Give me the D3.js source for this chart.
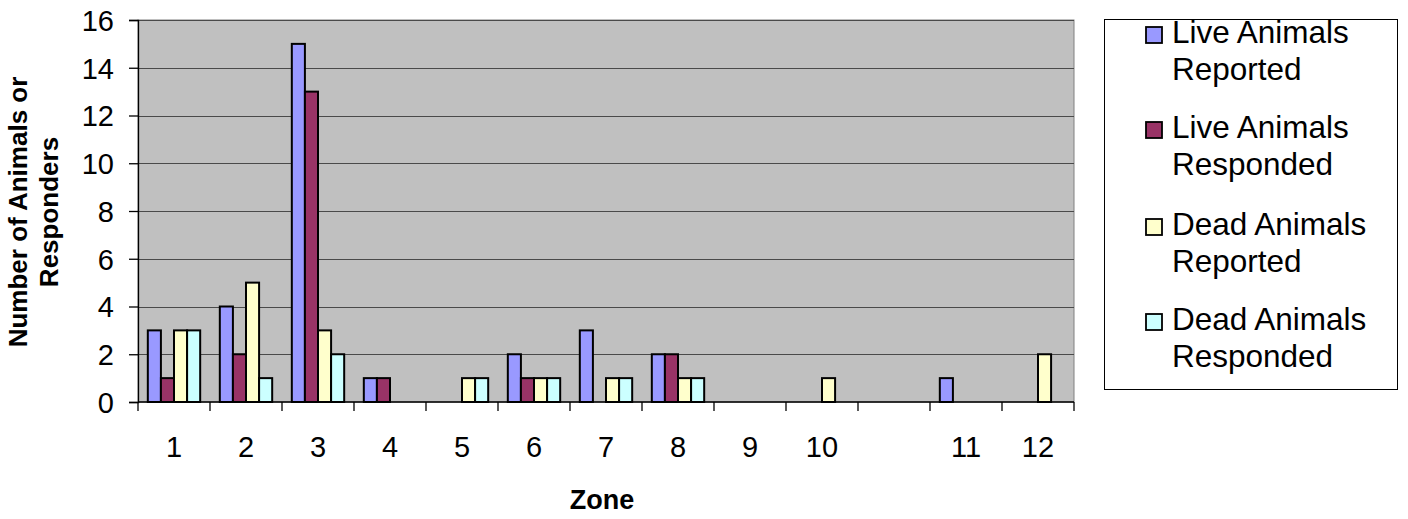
<!DOCTYPE html>
<html>
<head>
<meta charset="utf-8">
<script src="https://cdn.jsdelivr.net/npm/d3@7"></script>
<style>
  html, body { margin: 0; padding: 0; background: #ffffff; }
  svg { display: block; }
  text { font-family: "Liberation Sans", Arial, sans-serif; fill: #000; }
</style>
</head>
<body>
<svg id="chart" width="1408" height="519"></svg>
<script>
const categories = ["1", "2", "3", "4", "5", "6", "7", "8", "9", "10", "", "11", "12"];
const seriesNames = ["Live Animals Reported", "Live Animals Responded", "Dead Animals Reported", "Dead Animals Responded"];
const legendLines = [["Live Animals", "Reported"], ["Live Animals", "Responded"], ["Dead Animals", "Reported"], ["Dead Animals", "Responded"]];
const liveReported   = [3, 4, 15, 1, 0, 2, 3, 2, 0, 0, 0, 1, 0];
const liveResponded  = [1, 2, 13, 1, 0, 1, 0, 2, 0, 0, 0, 0, 0];
const deadReported   = [3, 5, 3, 0, 1, 1, 1, 1, 0, 1, 0, 0, 2];
const deadResponded  = [3, 1, 2, 0, 1, 1, 1, 1, 0, 0, 0, 0, 0];
const yTicks = [0, 2, 4, 6, 8, 10, 12, 14, 16];
const colors = ["#9999FF", "#993366", "#FFFFCC", "#CCFFFF"];

const seriesValues = [liveReported, liveResponded, deadReported, deadResponded];

const svg = d3.select("#chart");
const plot = { left: 138, right: 1074, top: 20, bottom: 402 };

const x0 = d3.scaleBand().domain(d3.range(categories.length)).range([plot.left, plot.right]).padding(0);
const x1 = d3.scaleBand().domain(d3.range(seriesNames.length)).range([0, x0.bandwidth()]).paddingInner(0).paddingOuter(0.75);
const y = d3.scaleLinear().domain([0, 16]).range([plot.bottom, plot.top]);

// plot background
svg.append("rect")
  .attr("x", plot.left).attr("y", plot.top)
  .attr("width", plot.right - plot.left).attr("height", plot.bottom - plot.top)
  .attr("fill", "#C0C0C0").attr("stroke", "#808080").attr("stroke-width", 1);

// gridlines
svg.append("g").selectAll("line").data(yTicks.filter(d => d > 0)).join("line")
  .attr("x1", plot.left).attr("x2", plot.right)
  .attr("y1", d => Math.round(y(d)) + 0.5).attr("y2", d => Math.round(y(d)) + 0.5)
  .attr("stroke", "#4a4a4a").attr("stroke-width", 1);

// bars
const rows = [];
categories.forEach((c, i) => {
  seriesValues.forEach((vals, s) => {
    if (vals[i] > 0) rows.push({ i, s, v: vals[i] });
  });
});
svg.append("g").selectAll("rect").data(rows).join("rect")
  .attr("x", d => x0(d.i) + x1(d.s))
  .attr("y", d => y(d.v))
  .attr("width", x1.bandwidth())
  .attr("height", d => y(0) - y(d.v))
  .attr("fill", d => colors[d.s])
  .attr("stroke", "#000").attr("stroke-width", 2);

// y axis
const yAxis = d3.axisLeft(y).tickValues(yTicks).tickSize(9).tickPadding(15).tickFormat(d3.format("d"));
const gy = svg.append("g").attr("transform", `translate(${plot.left},0)`).call(yAxis);
gy.select(".domain").attr("stroke", "#000").attr("stroke-width", 1.3);
gy.selectAll(".tick line").attr("stroke", "#000").attr("stroke-width", 1.3);
gy.selectAll(".tick text").attr("font-size", "29px").attr("font-family", "Liberation Sans, Arial, sans-serif").attr("fill", "#000").attr("dy", "0.36em");

// x axis: baseline + ticks between categories
const gx = svg.append("g");
gx.append("line").attr("x1", plot.left).attr("x2", plot.right)
  .attr("y1", plot.bottom).attr("y2", plot.bottom)
  .attr("stroke", "#000").attr("stroke-width", 1.3);
const boundaries = d3.range(categories.length + 1).map(i => i < categories.length ? x0(i) : plot.right);
gx.selectAll("line.tk").data(boundaries).join("line").attr("class", "tk")
  .attr("x1", d => d).attr("x2", d => d)
  .attr("y1", plot.bottom).attr("y2", plot.bottom + 9)
  .attr("stroke", "#000").attr("stroke-width", 1.3);
gx.selectAll("text").data(categories).join("text")
  .attr("x", (d, i) => x0(i) + x0.bandwidth() / 2)
  .attr("y", 457)
  .attr("text-anchor", "middle")
  .attr("font-size", "29px")
  .text(d => d);

// axis titles
svg.append("text")
  .attr("x", 602).attr("y", 509)
  .attr("text-anchor", "middle")
  .attr("font-size", "27px").attr("font-weight", "bold")
  .text("Zone");

const yt = svg.append("text")
  .attr("transform", "translate(27,212) rotate(-90)")
  .attr("text-anchor", "middle")
  .attr("font-size", "26px").attr("font-weight", "bold");
yt.append("tspan").attr("x", 0).attr("y", 0).text("Number of Animals or");
yt.append("tspan").attr("x", 0).attr("y", 31).text("Responders");

// legend
const lg = svg.append("g");
lg.append("rect").attr("x", 1104.5).attr("y", 19.5).attr("width", 293).attr("height", 370)
  .attr("fill", "#fff").attr("stroke", "#000").attr("stroke-width", 1);
const entryBase = [43, 138, 235, 330];
legendLines.forEach((lines, k) => {
  const base = entryBase[k];
  lg.append("rect").attr("x", 1146).attr("y", base - 16).attr("width", 16).attr("height", 16)
    .attr("fill", colors[k]).attr("stroke", "#000").attr("stroke-width", 1.8);
  lines.forEach((ln, j) => {
    lg.append("text").attr("x", 1172).attr("y", base + j * 37)
      .attr("font-size", "31.5px").text(ln);
  });
});
</script>
</body>
</html>
